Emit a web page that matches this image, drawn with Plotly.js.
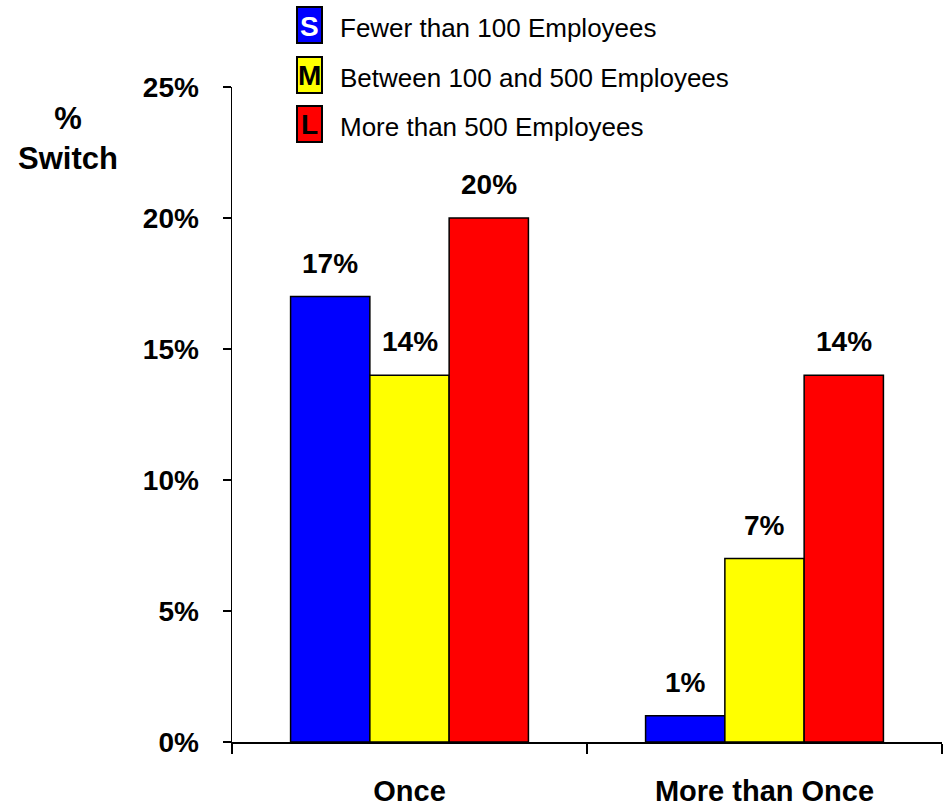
<!DOCTYPE html>
<html>
<head>
<meta charset="utf-8">
<script src="https://cdn.plot.ly/plotly-3.0.1.min.js"></script>
<style>html,body{margin:0;padding:0;background:#fff;}#chart{width:951px;height:809px;}</style>
</head>
<body>
<div id="chart"></div>
<script>
const categories = ["Once", "More than Once"];
const seriesNames = ["Fewer than 100 Employees", "Between 100 and 500 Employees", "More than 500 Employees"];
const seriesLetters = ["S", "M", "L"];
const seriesColors = ["#0000FF", "#FFFF00", "#FF0000"];
const letterColors = ["#FFFFFF", "#000000", "#000000"];
const small = [17, 1];
const medium = [14, 7];
const large = [20, 14];
const yTickVals = [0, 5, 10, 15, 20, 25];
const yTickText = ["0%", "5%", "10%", "15%", "20%", "25%"];

const W = 951, H = 809;
const M = {l: 232, r: 9, t: 87, b: 67};
const pw = W - M.l - M.r, ph = H - M.t - M.b;
const px = x => (x - M.l) / pw;
const py = y => (H - M.b - y) / ph;
const bargap = 0.33;
const barW = (pw / categories.length) * (1 - bargap) / 3;

const values = [small, medium, large];
const FONT = "Liberation Sans, Arial, sans-serif";

const traces = values.map((v, i) => ({
  type: "bar",
  x: categories,
  y: v,
  name: seriesNames[i],
  marker: {color: seriesColors[i], line: {color: "#000", width: 1.5}},
  showlegend: false,
  hoverinfo: "skip"
}));

const annotations = [];
values.forEach((v, i) => {
  v.forEach((val, j) => {
    annotations.push({
      x: categories[j], y: val, xref: "x", yref: "y",
      text: val + "%", showarrow: false,
      xanchor: "center", yanchor: "bottom",
      xshift: (i - 1) * barW, yshift: 16,
      font: {family: FONT, size: 28, color: "#000", weight: "bold"}
    });
  });
});

// y title
annotations.push({
  xref: "paper", yref: "paper", x: px(68), y: py(138),
  text: "%<br>Switch", showarrow: false, xanchor: "center", yanchor: "middle",
  font: {family: FONT, size: 31, color: "#000", weight: "bold"}
});

// custom legend
const shapes = [];
const legTop = [7, 57, 106];
seriesNames.forEach((n, i) => {
  const t = legTop[i], b = t + 36;
  shapes.push({
    type: "rect", xref: "paper", yref: "paper",
    x0: px(297), x1: px(322), y0: py(b), y1: py(t),
    fillcolor: seriesColors[i], line: {color: "#000", width: 2}
  });
  annotations.push({
    xref: "paper", yref: "paper", x: px(309.5), y: py((t + b) / 2 + 1),
    text: seriesLetters[i], showarrow: false, xanchor: "center", yanchor: "middle",
    font: {family: FONT, size: 28, color: letterColors[i], weight: "bold"}
  });
  annotations.push({
    xref: "paper", yref: "paper", x: px(338), y: py((t + b) / 2 + 3),
    text: n, showarrow: false, xanchor: "left", yanchor: "middle",
    font: {family: FONT, size: 26, color: "#000"}
  });
});

const layout = {
  width: W, height: H,
  margin: M,
  paper_bgcolor: "#fff", plot_bgcolor: "#fff",
  barmode: "group", bargap: bargap, bargroupgap: 0,
  font: {family: FONT, color: "#000"},
  xaxis: {
    type: "category", showgrid: false, zeroline: false,
    showline: true, linecolor: "#000", linewidth: 1.5,
    ticks: "outside", ticklen: 10, tickwidth: 1.5, tickcolor: "#000",
    tickson: "boundaries",
    tickfont: {family: FONT, size: 29, color: "#000", weight: "bold"},
    ticklabelstandoff: 23
  },
  yaxis: {
    range: [0, 25], showgrid: false, zeroline: false,
    showline: true, linecolor: "#000", linewidth: 1.5,
    ticks: "outside", ticklen: 8, tickwidth: 1.5, tickcolor: "#000",
    tickvals: yTickVals, ticktext: yTickText,
    tickfont: {family: FONT, size: 28, color: "#000", weight: "bold"},
    ticklabelstandoff: 18
  },
  shapes: shapes,
  annotations: annotations
};

Plotly.newPlot("chart", traces, layout, {displayModeBar: false, staticPlot: true});
</script>
</body>
</html>
